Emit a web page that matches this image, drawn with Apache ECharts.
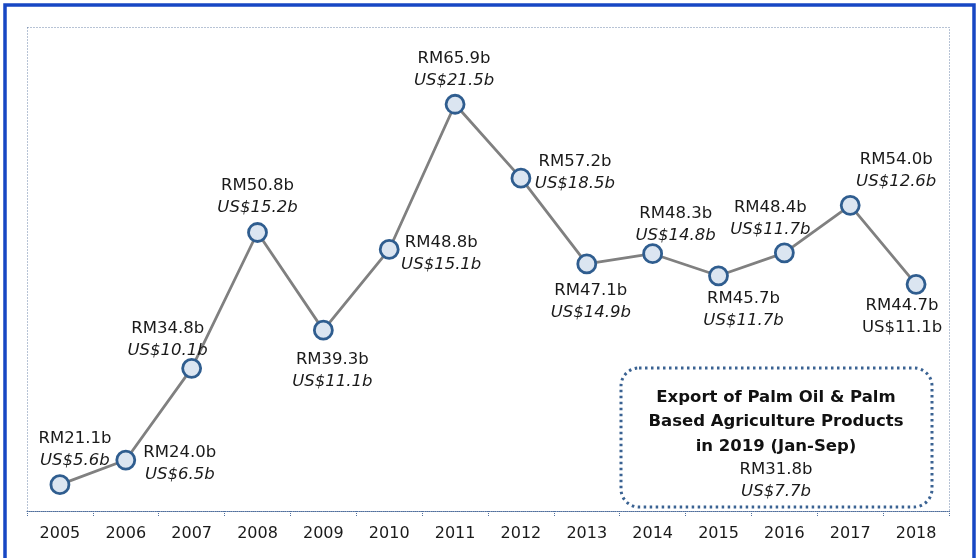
<!DOCTYPE html>
<html>
<head>
<meta charset="utf-8">
<script src="https://cdn.jsdelivr.net/npm/echarts@6/dist/echarts.min.js"></script>
<style>
  html, body { margin: 0; padding: 0; background: #fff; }
  #chart { width: 979px; height: 558px; }
</style>
</head>
<body>
<div id="chart"></div>
<script>
// export values per year (RM billion / US$ billion)
var years = ['2005', '2006', '2007', '2008', '2009', '2010', '2011', '2012', '2013', '2014', '2015', '2016', '2017', '2018'];
var rmValues = [21.1, 24.0, 34.8, 50.8, 39.3, 48.8, 65.9, 57.2, 47.1, 48.3, 45.7, 48.4, 54.0, 44.7];
var usValues = [5.6, 6.5, 10.1, 15.2, 11.1, 15.1, 21.5, 18.5, 14.9, 14.8, 11.7, 11.7, 12.6, 11.1];
var ytdTitle = ['Export of Palm Oil & Palm', 'Based Agriculture Products', 'in 2019 (Jan-Sep)'];
var ytdRm = 31.8;
var ytdUs = 7.7;

// label offsets from each marker (label placement, not data)
var labelOffsets = [
  [15, -35], [54, 4], [-24, -29], [0, -36], [9, 41], [52, 4], [-1, -35],
  [54, -5], [4, 38], [23, -29], [25, 34], [-14, -34], [46, -35], [-14, 32]
];

var chart = echarts.init(document.getElementById('chart'));
var FONT = '"DejaVu Sans", sans-serif';

var seriesData = rmValues.map(function (v, i) {
  var usKey = i === years.length - 1 ? 'n' : 'u';
  return {
    value: v,
    label: {
      show: true,
      position: 'inside',
      offset: labelOffsets[i],
      align: 'center',
      verticalAlign: 'middle',
      formatter: '{r|RM' + v.toFixed(1) + 'b}\n{' + usKey + '|US$' + usValues[i].toFixed(1) + 'b}',
      rich: {
        r: { fontSize: 16.5, fontFamily: FONT, color: '#1a1a1a', lineHeight: 22, align: 'center' },
        u: { fontSize: 16.5, fontFamily: FONT, color: '#1a1a1a', fontStyle: 'italic', lineHeight: 22, align: 'center' },
        n: { fontSize: 16.5, fontFamily: FONT, color: '#1a1a1a', lineHeight: 22, align: 'center' }
      }
    }
  };
});

var option = {
  animation: false,
  grid: { left: 27, right: 30, top: 27, bottom: 47, show: false },
  xAxis: {
    type: 'category',
    data: years,
    boundaryGap: true,
    axisLine: { lineStyle: { color: '#4f6e9c', width: 1, type: 'dotted' } },
    axisTick: { show: true, length: 5, lineStyle: { color: '#4f6e9c', type: 'dotted' } },
    axisLabel: { color: '#1a1a1a', fontSize: 16, fontFamily: FONT, margin: 15 }
  },
  yAxis: {
    type: 'value',
    min: 18,
    max: 75,
    show: false,
    splitLine: { show: false }
  },
  graphic: [
    {
      type: 'rect',
      shape: { x: 5, y: 5, width: 969, height: 570 },
      style: { fill: 'none', stroke: '#1747c4', lineWidth: 3.5 },
      z: 0
    },
    {
      type: 'rect',
      shape: { x: 27.5, y: 27.5, width: 922, height: 484 },
      style: { fill: 'none', stroke: '#6f86aa', lineWidth: 1, lineDash: [1, 2] },
      z: 0
    },
    {
      type: 'rect',
      shape: { x: 621, y: 368, width: 311, height: 139, r: 18 },
      style: { fill: '#fff', stroke: '#3a6292', lineWidth: 3, lineDash: [2.5, 3.5] },
      z: 10
    },
    {
      type: 'text',
      x: 776,
      y: 385,
      z: 11,
      style: {
        text: '{b|' + ytdTitle.join('}\n{b|') + '}\n{r|RM' + ytdRm.toFixed(1) + 'b}\n{u|US$' + ytdUs.toFixed(1) + 'b}',
        align: 'center',
        verticalAlign: 'top',
        rich: {
          b: { fontSize: 16.5, fontWeight: 'bold', fontFamily: FONT, fill: '#111', lineHeight: 24.5, align: 'center' },
          r: { fontSize: 16.5, fontFamily: FONT, fill: '#1a1a1a', lineHeight: 22, align: 'center' },
          u: { fontSize: 16.5, fontFamily: FONT, fill: '#1a1a1a', fontStyle: 'italic', lineHeight: 22, align: 'center' }
        }
      }
    }
  ],
  series: [
    {
      type: 'line',
      data: seriesData,
      symbol: 'circle',
      symbolSize: 18,
      lineStyle: { color: '#808080', width: 2.8 },
      itemStyle: { color: '#dbe5f1', borderColor: '#2f5d8f', borderWidth: 2.8 },
      z: 5
    }
  ]
};

chart.setOption(option);
</script>
</body>
</html>
